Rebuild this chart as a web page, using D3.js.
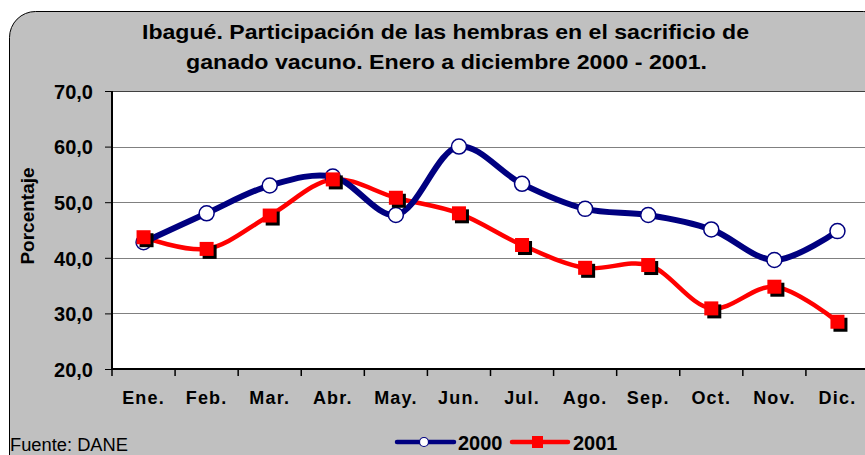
<!DOCTYPE html>
<html>
<head>
<meta charset="utf-8">
<script src="https://cdn.jsdelivr.net/npm/d3@7"></script>
<style>
  html, body { margin: 0; padding: 0; background: #ffffff; }
  svg { display: block; }
  text { font-family: "Liberation Sans", Arial, sans-serif; }
</style>
</head>
<body>
<svg id="chart" width="865" height="455"></svg>
<script>
const months = ["Ene.", "Feb.", "Mar.", "Abr.", "May.", "Jun.", "Jul.", "Ago.", "Sep.", "Oct.", "Nov.", "Dic."];
const values2000 = [42.8, 48.0, 53.0, 54.6, 47.7, 60.0, 53.3, 48.8, 47.7, 45.1, 39.6, 44.8];
const values2001 = [43.7, 41.6, 47.6, 54.1, 50.8, 48.0, 42.3, 38.2, 38.7, 30.9, 34.8, 28.5];
const yTicks = [20, 30, 40, 50, 60, 70];
const titleLines = ["Ibagué. Participación de las hembras en el sacrificio de",
                    "ganado vacuno. Enero a diciembre 2000 - 2001."];
const yLabel = "Porcentaje";
const source = "Fuente: DANE";
const seriesNames = ["2000", "2001"];

const svg = d3.select("#chart");
const fmt = v => d3.format(".1f")(v).replace(".", ",");

// background panel
svg.append("rect").attr("x", 9.5).attr("y", 11.5).attr("width", 880).attr("height", 470)
  .attr("rx", 26).attr("ry", 26).attr("fill", "#c0c0c0").attr("stroke", "#000").attr("stroke-width", 1);

const x = d3.scaleBand().domain(months).range([112, 869]).padding(0);
const y = d3.scaleLinear().domain([20, 70]).range([369, 91]);

// plot area
svg.append("rect").attr("x", x.range()[0]).attr("y", y(70)).attr("width", x.range()[1] - x.range()[0])
  .attr("height", y(20) - y(70)).attr("fill", "#fff");

// gridlines
svg.append("g").selectAll("line").data(yTicks.filter(d => d > 20)).join("line")
  .attr("x1", x.range()[0]).attr("x2", x.range()[1])
  .attr("y1", d => Math.round(y(d)) + 0.5).attr("y2", d => Math.round(y(d)) + 0.5)
  .attr("stroke", d => d === 70 ? "#404040" : "#808080").attr("stroke-width", 1);

// y axis
const yAxis = d3.axisLeft(y).tickValues(yTicks).tickSize(7).tickPadding(12).tickFormat(fmt);
const gy = svg.append("g").attr("transform", "translate(112,0)").call(yAxis);
gy.select(".domain").remove();
gy.selectAll(".tick line").attr("stroke", "#000").attr("stroke-width", 1);
gy.selectAll(".tick text").attr("font-size", 20).attr("font-weight", "bold").attr("fill", "#000")
  .attr("font-family", "Liberation Sans, Arial, sans-serif").attr("dy", "0.36em");
svg.append("line").attr("x1", 112).attr("x2", 112).attr("y1", y(70)).attr("y2", y(20) + 1)
  .attr("stroke", "#000").attr("stroke-width", 2);

// x axis
const boundaries = months.map(m => x(m)).concat([x.range()[1]]);
svg.append("g").selectAll("line").data(boundaries).join("line")
  .attr("x1", d => d).attr("x2", d => d).attr("y1", y(20)).attr("y2", y(20) + 7)
  .attr("stroke", "#000").attr("stroke-width", 1.5);
svg.append("line").attr("x1", 111).attr("x2", x.range()[1]).attr("y1", y(20)).attr("y2", y(20))
  .attr("stroke", "#000").attr("stroke-width", 2);
svg.append("g").selectAll("text").data(months).join("text")
  .attr("x", d => x(d) + x.bandwidth() / 2).attr("y", 404)
  .attr("text-anchor", "middle").attr("font-size", 18).attr("font-weight", "bold")
  .attr("letter-spacing", 1.2).text(d => d);

// y label
svg.append("text").attr("transform", "translate(34,216) rotate(-90)")
  .attr("text-anchor", "middle").attr("font-size", 19).attr("font-weight", "bold").text(yLabel);

// title
svg.append("text").attr("x", 445.5).attr("y", 39).attr("text-anchor", "middle")
  .attr("font-size", 21).attr("font-weight", "bold")
  .attr("textLength", 607).attr("lengthAdjust", "spacingAndGlyphs").text(titleLines[0]);
svg.append("text").attr("x", 446.5).attr("y", 69).attr("text-anchor", "middle")
  .attr("font-size", 21).attr("font-weight", "bold")
  .attr("textLength", 521).attr("lengthAdjust", "spacingAndGlyphs").text(titleLines[1]);

// lines
const cx = i => x(months[i]) + x.bandwidth() / 2;
const line = d3.line().x((d, i) => cx(i)).y(d => y(d)).curve(d3.curveCatmullRom.alpha(0.5));

svg.append("path").datum(values2001).attr("d", line).attr("fill", "none")
  .attr("stroke", "#ff0000").attr("stroke-width", 4.5).attr("stroke-linejoin", "round");
svg.append("path").datum(values2000).attr("d", line).attr("fill", "none")
  .attr("stroke", "#000080").attr("stroke-width", 6).attr("stroke-linejoin", "round");

// markers 2000
svg.append("g").selectAll("circle").data(values2000).join("circle")
  .attr("cx", (d, i) => cx(i)).attr("cy", d => y(d)).attr("r", 7.5)
  .attr("fill", "#fff").attr("stroke", "#000080").attr("stroke-width", 1.5);

// markers 2001 (with shadow)
const sq = 14;
const g01 = svg.append("g");
g01.selectAll("rect.sh").data(values2001).join("rect").attr("class", "sh")
  .attr("x", (d, i) => cx(i) - sq / 2 + 3).attr("y", d => y(d) - sq / 2 + 3)
  .attr("width", sq).attr("height", sq).attr("fill", "#000");
g01.selectAll("rect.mk").data(values2001).join("rect").attr("class", "mk")
  .attr("x", (d, i) => cx(i) - sq / 2).attr("y", d => y(d) - sq / 2)
  .attr("width", sq).attr("height", sq).attr("fill", "#ff0000");

// legend
const lg = svg.append("g");
lg.append("line").attr("x1", 397).attr("x2", 454).attr("y1", 442).attr("y2", 442)
  .attr("stroke", "#000080").attr("stroke-width", 4.5).attr("stroke-linecap", "round");
lg.append("circle").attr("cx", 424).attr("cy", 442).attr("r", 4.5)
  .attr("fill", "#fff").attr("stroke", "#000080").attr("stroke-width", 1.2);
lg.append("text").attr("x", 458).attr("y", 449.5).attr("font-size", 20).attr("font-weight", "bold").text(seriesNames[0]);
lg.append("line").attr("x1", 512).attr("x2", 568).attr("y1", 442).attr("y2", 442)
  .attr("stroke", "#ff0000").attr("stroke-width", 4.5).attr("stroke-linecap", "round");
lg.append("rect").attr("x", 532).attr("y", 436).attr("width", 11).attr("height", 12).attr("fill", "#ff0000");
lg.append("text").attr("x", 573).attr("y", 449.5).attr("font-size", 20).attr("font-weight", "bold").text(seriesNames[1]);

// source
svg.append("text").attr("x", 10).attr("y", 451).attr("font-size", 18)
  .attr("textLength", 118).attr("lengthAdjust", "spacingAndGlyphs").text(source);
</script>
</body>
</html>
